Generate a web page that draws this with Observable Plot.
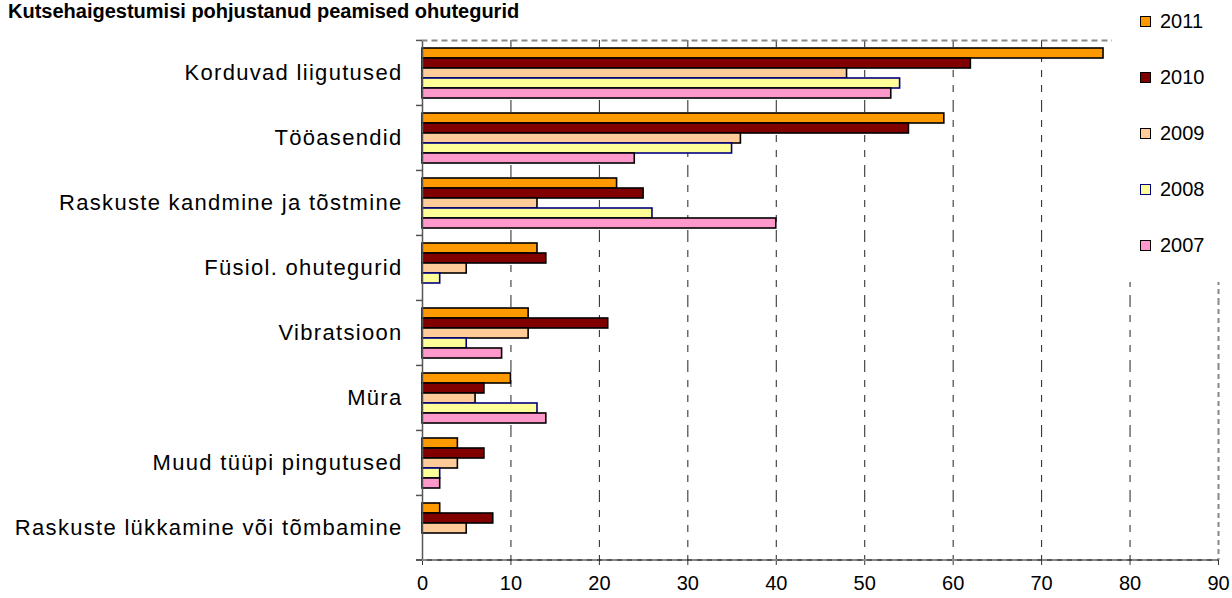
<!DOCTYPE html>
<html>
<head>
<meta charset="utf-8">
<script src="https://cdn.jsdelivr.net/npm/d3@7"></script>
<script src="https://cdn.jsdelivr.net/npm/@observablehq/plot@0.6"></script>
<style>
  html, body { margin: 0; padding: 0; background: #fff; }
  body { position: relative; width: 1232px; height: 598px; overflow: hidden; font-family: "Liberation Sans", Arial, sans-serif; }
  #title { position: absolute; left: 8px; top: 0px; font-weight: bold; font-size: 20px; line-height: 22px; color: #000; white-space: nowrap; z-index: 2; }
  #chart { position: absolute; left: 0; top: 0; }
  #legend { position: absolute; left: 1112px; top: 0; width: 120px; height: 282px; background: #fff; z-index: 2; }
  .item { position: absolute; left: 28px; height: 22px; display: flex; align-items: center; font-size: 20px; color: #000; }
  .sw { width: 9px; height: 9px; border: 1.5px solid #000; margin-right: 9px; }
  g[aria-label="fy-axis tick label"] text { letter-spacing: 1.3px; }
</style>
</head>
<body>
<div id="title">Kutsehaigestumisi pohjustanud peamised ohutegurid</div>
<div id="chart"></div>
<div id="legend"></div>
<script>
const categories = [
  "Korduvad liigutused",
  "Tööasendid",
  "Raskuste kandmine ja tõstmine",
  "Füsiol. ohutegurid",
  "Vibratsioon",
  "Müra",
  "Muud tüüpi pingutused",
  "Raskuste lükkamine või tõmbamine"
];
const years = ["2011", "2010", "2009", "2008", "2007"];
const v2011 = [77, 59, 22, 13, 12, 10, 4, 2];
const v2010 = [62, 55, 25, 14, 21, 7, 7, 8];
const v2009 = [48, 36, 13, 5, 12, 6, 4, 5];
const v2008 = [54, 35, 26, 2, 5, 13, 2, 0];
const v2007 = [53, 24, 40, 0, 9, 14, 2, 0];
const xTicks = [0, 10, 20, 30, 40, 50, 60, 70, 80, 90];
const gridTicks = [10, 20, 30, 40, 50, 60, 70, 80];

const fills = {"2011": "#FF9900", "2010": "#800000", "2009": "#FFCC99", "2008": "#FFFF99", "2007": "#FF99CC"};
const strokes = {"2011": "#000000", "2010": "#000000", "2009": "#000000", "2008": "#000080", "2007": "#000000"};

const series = {"2011": v2011, "2010": v2010, "2009": v2009, "2008": v2008, "2007": v2007};
const data = [];
categories.forEach((c, i) => {
  years.forEach(y => {
    const v = series[y][i];
    if (v > 0) data.push({category: c, year: y, value: v});
  });
});

const W = 1232, H = 598;
const mTop = 39, mBottom = 38, mLeft = 422, mRight = 14;
const step = (H - mTop - mBottom) / categories.length;

const plot = Plot.plot({
  width: W,
  height: H,
  marginTop: mTop,
  marginBottom: mBottom,
  marginLeft: mLeft,
  marginRight: mRight,
  style: {fontFamily: "'Liberation Sans', Arial, sans-serif", background: "transparent", overflow: "visible"},
  x: {domain: [0, 90], axis: null},
  y: {domain: years, padding: 0, insetTop: 6, insetBottom: 6, axis: null},
  fy: {domain: categories, padding: 0, axis: null},
  color: {type: "identity"},
  marks: [
    Plot.ruleX(gridTicks, {stroke: "#222", strokeWidth: 1, strokeDasharray: "7,8"}),
    Plot.ruleX([90], {stroke: "#888", strokeWidth: 2, strokeDasharray: "5,4"}),
    Plot.barX(data, {
      x: "value", y: "year", fy: "category",
      fill: d => fills[d.year], stroke: d => strokes[d.year], strokeWidth: 1.6
    }),
    Plot.ruleX([0], {stroke: "#555", strokeWidth: 1.5}),
    Plot.frame({facet: "super", anchor: "top", stroke: "#888", strokeWidth: 2, strokeDasharray: "4,6"}),
    Plot.axisX(xTicks, {tickSize: 5, tickPadding: 10, fontSize: 20, label: null, stroke: "#333"}),
    Plot.axisFy({anchor: "left", tickSize: 0, tickPadding: 20, fontSize: 22, label: null, fill: "#000"}),
    Plot.axisFy({anchor: "left", tickSize: 6, fill: null, dy: -step / 2, stroke: "#555", strokeWidth: 1.5, label: null})
  ]
});
document.getElementById("chart").appendChild(plot);

// bottom axis baseline, placed with the plot's own x scale
const xs = plot.scale("x");
const NS = "http://www.w3.org/2000/svg";
const yBase = H - mBottom;
function addLine(x1, x2, stroke, width, dash) {
  const ln = document.createElementNS(NS, "line");
  ln.setAttribute("x1", x1); ln.setAttribute("x2", x2);
  ln.setAttribute("y1", yBase); ln.setAttribute("y2", yBase);
  ln.setAttribute("stroke", stroke); ln.setAttribute("stroke-width", width);
  if (dash) ln.setAttribute("stroke-dasharray", dash);
  plot.appendChild(ln);
}
addLine(xs.apply(0) - 6, xs.apply(90), "#222", 1.5, null);
addLine(xs.apply(0), xs.apply(90), "#888", 2, "5,5");

const legend = document.getElementById("legend");
years.forEach((y, i) => {
  const item = document.createElement("div");
  item.className = "item";
  item.style.top = (10 + i * 56) + "px";
  const sw = document.createElement("span");
  sw.className = "sw";
  sw.style.background = fills[y];
  sw.style.borderColor = strokes[y];
  item.appendChild(sw);
  item.appendChild(document.createTextNode(y));
  legend.appendChild(item);
});
</script>
</body>
</html>
